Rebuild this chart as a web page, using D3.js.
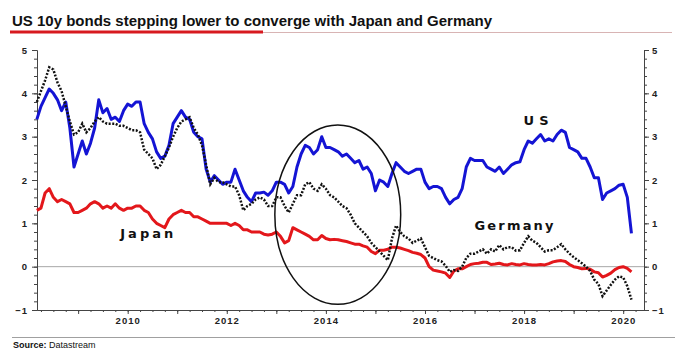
<!DOCTYPE html>
<html>
<head>
<meta charset="utf-8">
<script src="https://cdn.jsdelivr.net/npm/d3@7"></script>
<style>
    body { margin: 0; background: #fff; }
    svg { display: block; font-family: "Liberation Sans", Arial, sans-serif; }
    .axis text { font-size: 9.5px; font-weight: bold; fill: #222; letter-spacing: 1px; }
    .axis path, .axis line { stroke: #444; }
</style>
</head>
<body>
<div id="chart"></div>
<script>

// monthly 10y yields, Mar 2008 .. Mar 2020
var startYear = 2008, startMonth = 2;

var us = [
    3.4, 3.7, 3.9, 4.1, 4.0, 3.85, 3.6, 3.8, 3.2, 2.3,
    2.6, 2.9, 2.6, 2.85, 3.2, 3.85, 3.55, 3.65, 3.4, 3.45, 3.35, 3.6,
    3.75, 3.7, 3.8, 3.8, 3.3, 3.1, 2.95, 2.65, 2.5, 2.55, 2.8, 3.3,
    3.45, 3.6, 3.45, 3.4, 3.1, 3.0, 2.95, 2.25, 1.95, 2.1, 2.0, 1.9,
    1.95, 1.95, 2.25, 2.0, 1.75, 1.6, 1.5, 1.7, 1.7, 1.72, 1.65, 1.75,
    1.95, 1.95, 1.9, 1.7, 1.85, 2.3, 2.6, 2.8, 2.75, 2.6, 2.7, 3.0,
    2.75, 2.75, 2.7, 2.65, 2.55, 2.6, 2.5, 2.4, 2.45, 2.25, 2.3, 2.15,
    1.75, 2.0, 1.95, 1.85, 2.15, 2.4, 2.3, 2.2, 2.15, 2.2, 2.25, 2.25,
    1.95, 1.8, 1.85, 1.85, 1.8, 1.6, 1.45, 1.55, 1.6, 1.8, 2.3, 2.5,
    2.45, 2.45, 2.45, 2.3, 2.25, 2.2, 2.3, 2.15, 2.25, 2.35, 2.4, 2.42,
    2.7, 2.9, 2.85, 2.95, 3.05, 2.9, 2.95, 2.9, 3.05, 3.15, 3.1, 2.75,
    2.7, 2.65, 2.5, 2.5, 2.3, 2.05, 2.05, 1.55, 1.7, 1.75, 1.8, 1.88,
    1.9, 1.6, 0.77
];

var japan = [
    1.3, 1.35, 1.7, 1.8, 1.6, 1.5, 1.55, 1.5, 1.45, 1.25,
    1.25, 1.3, 1.35, 1.45, 1.5, 1.45, 1.35, 1.4, 1.35, 1.45, 1.35, 1.3,
    1.35, 1.35, 1.4, 1.4, 1.3, 1.25, 1.1, 1.0, 0.95, 0.9, 1.1, 1.2,
    1.25, 1.3, 1.25, 1.25, 1.15, 1.15, 1.1, 1.05, 1.0, 1.0, 1.0, 1.0,
    1.0, 0.95, 1.0, 0.95, 0.85, 0.85, 0.8, 0.8, 0.8, 0.75, 0.73, 0.75,
    0.8, 0.7, 0.55, 0.6, 0.9, 0.85, 0.8, 0.75, 0.7, 0.62, 0.62, 0.72,
    0.65, 0.62, 0.63, 0.62, 0.6, 0.58, 0.55, 0.52, 0.52, 0.48, 0.45, 0.35,
    0.3, 0.38, 0.38, 0.4, 0.45, 0.45, 0.43, 0.4, 0.37, 0.33, 0.31, 0.28,
    0.2, 0.0, -0.08, -0.1, -0.12, -0.15, -0.25, -0.1, -0.05, -0.05, 0.0, 0.05,
    0.07, 0.08, 0.1, 0.1, 0.05, 0.06, 0.08, 0.05, 0.04, 0.07, 0.05, 0.04,
    0.07, 0.05, 0.04, 0.04, 0.05, 0.04, 0.07, 0.11, 0.13, 0.14, 0.12, 0.05,
    0.0, -0.02, -0.05, -0.04, -0.06, -0.12, -0.14, -0.24, -0.2, -0.15, -0.07, -0.02,
    0.0, -0.04, -0.12
];

var germany = [
    3.8, 4.05, 4.3, 4.6, 4.55, 4.25, 4.05, 3.7, 3.35, 3.05,
    3.1, 3.3, 3.1, 3.2, 3.35, 3.45, 3.35, 3.3, 3.3, 3.3, 3.25, 3.25,
    3.2, 3.15, 3.15, 3.1, 2.7, 2.6, 2.5, 2.25, 2.35, 2.55, 2.75, 3.0,
    3.2, 3.35, 3.4, 3.45, 3.2, 3.05, 2.8, 2.35, 1.9, 2.05, 1.95, 1.95,
    1.9, 1.85, 1.85, 1.65, 1.3, 1.4, 1.45, 1.55, 1.6, 1.55, 1.4, 1.4,
    1.6, 1.6, 1.4, 1.25, 1.45, 1.65, 1.65, 1.9, 1.95, 1.8, 1.75, 1.9,
    1.8, 1.65, 1.6, 1.5, 1.4, 1.35, 1.2, 1.0, 0.9, 0.8, 0.7, 0.55,
    0.45, 0.35, 0.25, 0.15, 0.65, 0.95, 0.8, 0.7, 0.65, 0.55, 0.6, 0.65,
    0.45, 0.25, 0.2, 0.15, 0.12, 0.02, -0.12, -0.08, -0.1, 0.0, 0.2, 0.3,
    0.3, 0.35, 0.4, 0.3, 0.4, 0.35, 0.5, 0.4, 0.45, 0.45, 0.37, 0.38,
    0.55, 0.7, 0.6, 0.55, 0.45, 0.35, 0.38, 0.38, 0.45, 0.52, 0.4, 0.3,
    0.22, 0.15, 0.08, 0.0, -0.1, -0.3, -0.4, -0.68, -0.55, -0.42, -0.3, -0.22,
    -0.25, -0.45, -0.76
];

var yTicks = [-1, 0, 1, 2, 3, 4, 5];
var yearTicks = [2009, 2010, 2011, 2012, 2013, 2014, 2015, 2016, 2017, 2018, 2019, 2020];

var title = "US 10y bonds stepping lower to converge with Japan and Germany";
var source = "Datastream";

var width = 680, height = 358;
var margin = { top: 50, right: 36, bottom: 48, left: 37 };

var svg = d3.select("#chart")
    .append("svg")
    .attr("width", width)
    .attr("height", height);

// title and rules
svg.append("text")
    .attr("x", 12)
    .attr("y", 26)
    .style("font-size", "15px")
    .style("font-weight", "bold")
    .attr("fill", "#111")
    .text(title);

svg.append("line")
    .attr("x1", 262).attr("x2", 672)
    .attr("y1", 32.5).attr("y2", 32.5)
    .attr("stroke", "#d8b4b4")
    .attr("stroke-width", 1);

svg.append("line")
    .attr("x1", 10).attr("x2", 263)
    .attr("y1", 32).attr("y2", 32)
    .attr("stroke", "#d7191f")
    .attr("stroke-width", 3);

svg.append("line")
    .attr("x1", 12).attr("x2", 675)
    .attr("y1", 337.5).attr("y2", 337.5)
    .attr("stroke", "#a0a0a0")
    .attr("stroke-width", 1);

var src = svg.append("text")
    .attr("x", 13)
    .attr("y", 348)
    .style("font-size", "9px")
    .attr("fill", "#111");
src.append("tspan").style("font-weight", "bold").text("Source: ");
src.append("tspan").text(source);

// scales
var x_scale = d3.scaleLinear()
    .domain([2008.17, 2020.42])
    .range([margin.left, width - margin.right]);

var y_scale = d3.scaleLinear()
    .domain([-1, 5])
    .range([height - margin.bottom, margin.top]);

function dateOf(i) {
    return startYear + (startMonth + i) / 12;
}

// zero line
svg.append("line")
    .attr("x1", x_scale.range()[0]).attr("x2", x_scale.range()[1])
    .attr("y1", y_scale(0)).attr("y2", y_scale(0))
    .attr("stroke", "#a8a8a8")
    .attr("stroke-width", 1);

// axes
var minorY = d3.range(-1, 5.001, 0.2);
var minorX = d3.range(2008.25, 2020.42, 0.25);
var fmt = d3.format("d");

svg.append("g")
    .attr("class", "axis")
    .attr("transform", "translate(" + margin.left + ",0)")
    .call(d3.axisLeft(y_scale).tickValues(minorY).tickSize(3).tickSizeOuter(0).tickFormat(""));
svg.append("g")
    .attr("class", "axis")
    .attr("transform", "translate(" + margin.left + ",0)")
    .call(d3.axisLeft(y_scale).tickValues(yTicks).tickSize(5).tickPadding(4).tickSizeOuter(0).tickFormat(fmt));

svg.append("g")
    .attr("class", "axis")
    .attr("transform", "translate(" + (width - margin.right) + ",0)")
    .call(d3.axisRight(y_scale).tickValues(minorY).tickSize(3).tickSizeOuter(0).tickFormat(""));
svg.append("g")
    .attr("class", "axis")
    .attr("transform", "translate(" + (width - margin.right) + ",0)")
    .call(d3.axisRight(y_scale).tickValues(yTicks).tickSize(5).tickPadding(3).tickSizeOuter(0).tickFormat(fmt));

svg.append("g")
    .attr("class", "axis")
    .attr("transform", "translate(0," + (height - margin.bottom) + ")")
    .call(d3.axisBottom(x_scale).tickValues(minorX).tickSize(2).tickSizeOuter(0).tickFormat(""));
svg.append("g")
    .attr("class", "axis")
    .attr("transform", "translate(0," + (height - margin.bottom) + ")")
    .call(d3.axisBottom(x_scale).tickValues(yearTicks).tickSize(4).tickPadding(3).tickSizeOuter(0)
        .tickFormat(function (d) { return d % 2 === 0 ? d : ""; }));

// lines
var line = d3.line()
    .x(function (d, i) { return x_scale(dateOf(i)); })
    .y(function (d) { return y_scale(d); });

svg.append("path")
    .datum(japan)
    .attr("fill", "none")
    .attr("stroke", "#e3171b")
    .attr("stroke-width", 3)
    .attr("stroke-linejoin", "round")
    .attr("d", line);

svg.append("path")
    .datum(us)
    .attr("fill", "none")
    .attr("stroke", "#1414d4")
    .attr("stroke-width", 3)
    .attr("stroke-linejoin", "round")
    .attr("d", line);

svg.append("path")
    .datum(germany)
    .attr("fill", "none")
    .attr("stroke", "#111")
    .attr("stroke-width", 2.5)
    .attr("stroke-dasharray", "2,1.6")
    .attr("d", line);

// ellipse round 2013-2015
svg.append("ellipse")
    .attr("cx", x_scale(2014.24))
    .attr("cy", y_scale(1.2))
    .attr("rx", x_scale(2014.24) - x_scale(2012.97))
    .attr("ry", y_scale(-0.87) - y_scale(1.2))
    .attr("fill", "none")
    .attr("stroke", "#111")
    .attr("stroke-width", 1.5);

// series labels
var labels = [
    { name: "US", x: 2017.99, y: 3.26, w: 25 },
    { name: "Germany", x: 2017.0, y: 0.85, w: 79 },
    { name: "Japan", x: 2009.85, y: 0.66, w: 53 }
];

svg.selectAll(".lab")
    .data(labels)
    .enter()
    .append("text")
    .attr("class", "lab")
    .attr("x", function (d) { return x_scale(d.x); })
    .attr("y", function (d) { return y_scale(d.y); })
    .attr("textLength", function (d) { return d.w; })
    .attr("lengthAdjust", "spacing")
    .style("font-family", "'DejaVu Sans', sans-serif")
    .style("font-size", "13px")
    .style("font-weight", "bold")
    .attr("fill", "#111")
    .text(function (d) { return d.name; });

</script>
</body>
</html>
